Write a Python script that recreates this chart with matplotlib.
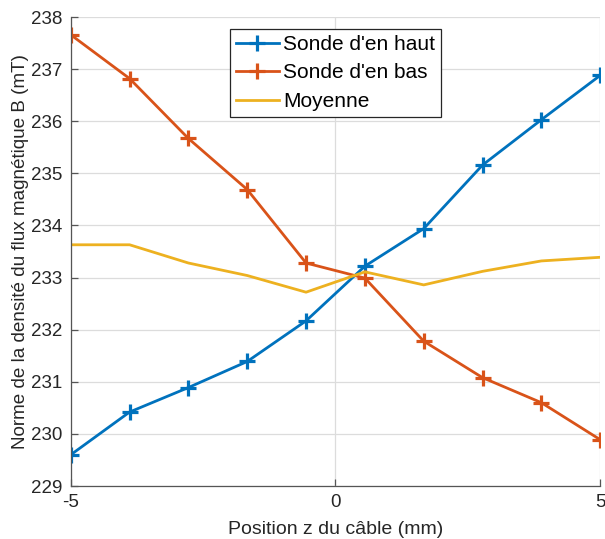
import matplotlib
matplotlib.use("Agg")
import matplotlib.pyplot as plt

plt.rcParams['font.family'] = ['Liberation Sans', 'DejaVu Sans']

z = [-5.0, -3.889, -2.778, -1.667, -0.556, 0.556, 1.667, 2.778, 3.889, 5.0]
haut = [229.60, 230.42, 230.89, 231.39, 232.17, 233.22, 233.94, 235.16, 236.03, 236.88]
bas = [237.66, 236.82, 235.67, 234.69, 233.28, 232.99, 231.78, 231.08, 230.60, 229.89]
moyenne = [233.63, 233.63, 233.28, 233.04, 232.72, 233.11, 232.86, 233.12, 233.32, 233.39]

xticks = [-5, 0, 5]
yticks = [229, 230, 231, 232, 233, 234, 235, 236, 237, 238]

fig = plt.figure(figsize=(6.05, 5.39), dpi=100)
ax = fig.add_axes([0.117, 0.0983, 0.875, 0.870])

ax.plot(z, haut, color='#0072BD', lw=2.0, marker='+', ms=11, mew=2.3, label="Sonde d'en haut")
ax.plot(z, bas, color='#D95319', lw=2.0, marker='+', ms=11, mew=2.3, label="Sonde d'en bas")
ax.plot(z, moyenne, color='#EDB120', lw=2.0, label="Moyenne")

ax.set_xlim(-5, 5)
ax.set_ylim(229, 238)
ax.set_xticks(xticks)
ax.set_yticks(yticks)
ax.set_xticklabels([str(t) for t in xticks])
ax.set_yticklabels([str(t) for t in yticks])
ax.grid(True, color='#dcdcdc', lw=0.9)
ax.set_axisbelow(True)
for s in ['top', 'right']:
    ax.spines[s].set_visible(False)
for s in ['left', 'bottom']:
    ax.spines[s].set_color('#555555')
    ax.spines[s].set_linewidth(0.9)
ax.tick_params(direction='in', length=5, colors='#555555', labelcolor='#262626', labelsize=13.5, width=0.9, pad=6)
ax.set_xlabel('Position z du câble (mm)', fontsize=14, color='#262626', labelpad=7)
ax.set_ylabel('Norme de la densité du flux magnétique B (mT)', fontsize=13.6, color='#262626', labelpad=1.5)

leg = ax.legend(loc='upper left', bbox_to_anchor=(0.30, 0.975), fontsize=15, frameon=True,
                fancybox=False, edgecolor='#262626', framealpha=1, borderpad=0.3,
                handlelength=2.05, handletextpad=0.22, labelspacing=0.45, borderaxespad=0)
leg.get_frame().set_linewidth(0.9)

fig.savefig('out.png', dpi=100)
